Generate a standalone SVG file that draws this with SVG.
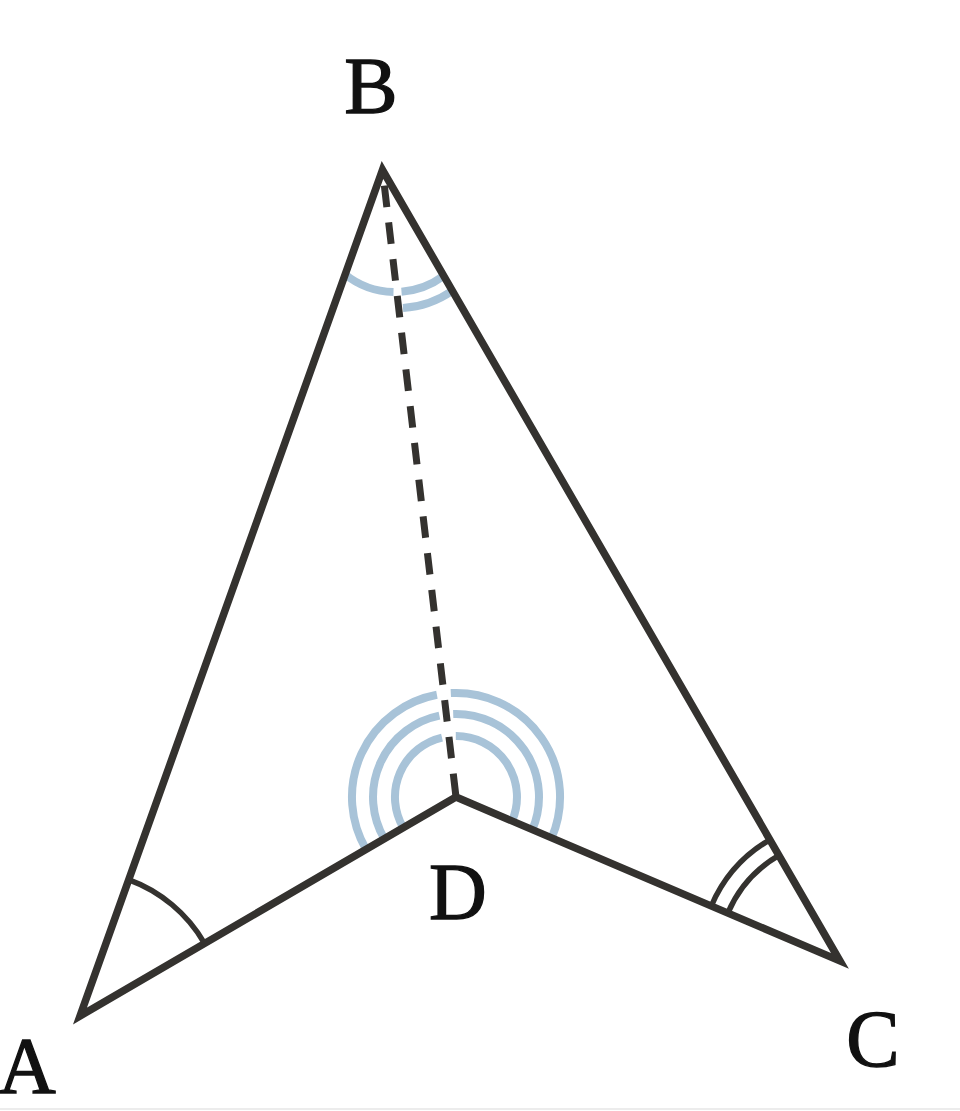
<svg xmlns="http://www.w3.org/2000/svg" width="960" height="1111" viewBox="0 0 960 1111">
<style>
.edge{fill:none;stroke:#34322f;stroke-width:7.5;stroke-linejoin:miter;stroke-miterlimit:10}
.dash{fill:none;stroke:#34322f;stroke-width:7;stroke-dasharray:21.5 15.5;stroke-dashoffset:21.2}
.blue{fill:none;stroke:#a8c3d8;stroke-width:8}
.mark{fill:none;stroke:#34322f;stroke-width:5.5}
.lbl{font-family:"Liberation Serif","DejaVu Serif",serif;font-size:80px;fill:#111;stroke:#111;stroke-width:1.3;text-anchor:middle}
</style>
<rect width="960" height="1111" fill="#fff"/>
<line x1="0" y1="1109" x2="960" y2="1109" stroke="#ececec" stroke-width="2"/>
<g id="angle-marks-blue">
<path class="blue" d="M 344.5 274 A 81 81 0 0 0 393.5 292"/>
<path class="blue" d="M 401.5 291.7 A 81 81 0 0 0 443.5 276"/>
<path class="blue" d="M 403 308 A 97 97 0 0 0 452 291"/>
<path class="blue" d="M 366 849.2 A 104 104 0 0 1 436.9 694.8"/>
<path class="blue" d="M 450.8 693.1 A 104 104 0 0 1 551.7 837.8"/>
<path class="blue" d="M 384.2 838.6 A 83 83 0 0 1 439.4 715.7"/>
<path class="blue" d="M 453.2 714 A 83 83 0 0 1 532.3 829.6"/>
<path class="blue" d="M 403.2 827.6 A 61 61 0 0 1 442 737.6"/>
<path class="blue" d="M 455.8 736 A 61 61 0 0 1 512.1 820.9"/>
</g>
<g id="connectors">
<path class="edge" d="M 80 1016 L 382.5 170 L 840 961 L 456 797 Z"/>
<line class="dash" x1="382.5" y1="170" x2="456" y2="797"/>
</g>
<g id="angle-marks-black">
<path class="mark" d="M 128.5 879.6 A 145 145 0 0 1 204.5 943.3"/>
<path class="mark" d="M 711.3 906 A 140 140 0 0 1 769.8 839.8"/>
<path class="mark" d="M 727.8 913.1 A 122 122 0 0 1 778.9 855.4"/>
</g>
<g id="node-A"><text class="lbl" x="27" y="1093">A</text></g>
<g id="node-B"><text class="lbl" x="371" y="113">B</text></g>
<g id="node-C"><text class="lbl" x="873" y="1066">C</text></g>
<g id="node-D"><text class="lbl" x="458" y="919">D</text></g>
</svg>
